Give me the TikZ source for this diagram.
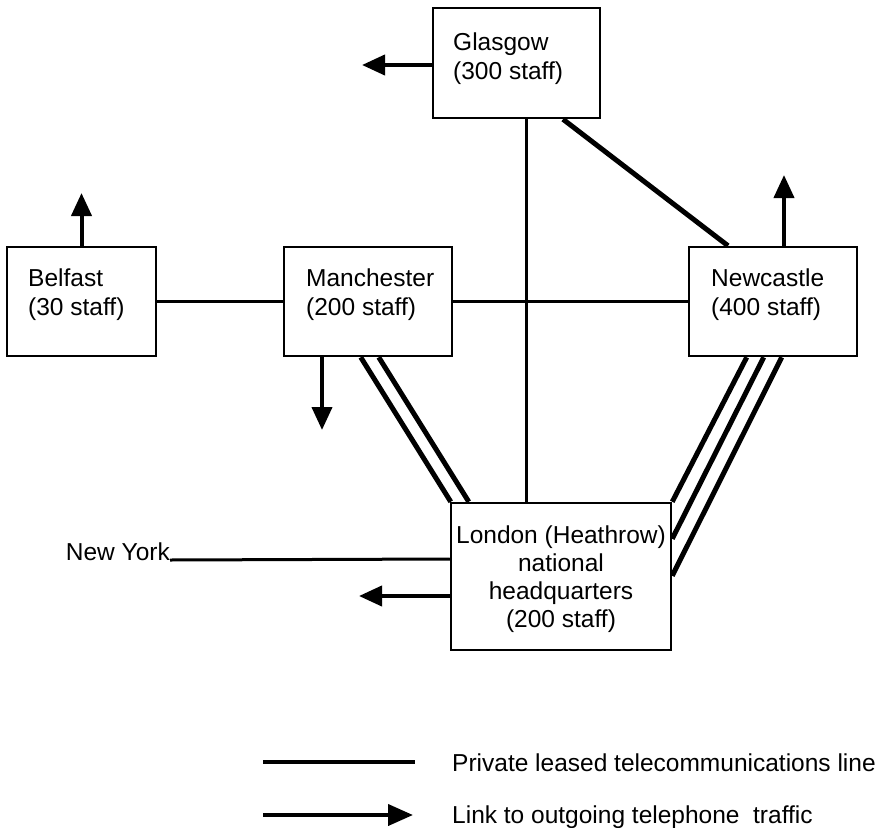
\documentclass[tikz,border=0pt]{standalone}
\usepackage{fontspec}
\setmainfont{Liberation Sans}
\usetikzlibrary{arrows.meta,calc}
\begin{document}
\begin{tikzpicture}[x=1pt,y=-1pt,
  office/.style={draw, line width=2.5pt, inner sep=0pt},
  txt/.style={font=\fontsize{24.5}{29}\selectfont, inner sep=0pt},
  leased/.style={line width=3pt},
  trunk/.style={line width=5pt},
  outgoing/.style={line width=4pt, -{Triangle[length=23pt,width=20pt]}},
]
\useasboundingbox (0,0) rectangle (895,828);

% office boxes
\node[office, minimum width=167pt, minimum height=110pt] (glasgow)    at (516.5,63)  {};
\node[office, minimum width=149pt, minimum height=109pt] (belfast)    at (81.5,301.5) {};
\node[office, minimum width=168pt, minimum height=109pt] (manchester) at (368,301.5) {};
\node[office, minimum width=168pt, minimum height=109pt] (newcastle)  at (773,301.5) {};
\node[office, minimum width=220pt, minimum height=147pt] (london)     at (561,576.5) {};

% office labels
\node[txt, anchor=base west] (glasgowA)    at (453,50)  {Glasgow};
\node[txt, anchor=base west] (glasgowB)    at (453,79)  {(300 staff)};
\node[txt, anchor=base west] (belfastA)    at (28,286)  {Belfast};
\node[txt, anchor=base west] (belfastB)    at (28,315)  {(30 staff)};
\node[txt, anchor=base west] (manchesterA) at (306,286) {Manchester};
\node[txt, anchor=base west] (manchesterB) at (306,315) {(200 staff)};
\node[txt, anchor=base west] (newcastleA)  at (711,286) {Newcastle};
\node[txt, anchor=base west] (newcastleB)  at (711,315) {(400 staff)};
\node[txt, anchor=base] (londonA) at (561,543) {London (Heathrow)};
\node[txt, anchor=base] (londonB) at (561,571) {national};
\node[txt, anchor=base] (londonC) at (561,599) {headquarters};
\node[txt, anchor=base] (londonD) at (561,627) {(200 staff)};
\node[txt, anchor=base east] (newyork) at (170,560) {New York};

% private leased lines
\coordinate (glasgowDown) at ($(glasgow.south)+(9.5,0)$);
\draw[leased] (belfast) -- (manchester);
\draw[leased] (manchester) -- (newcastle);
\draw[leased] (glasgowDown) -- (glasgowDown |- london.north);
\draw[leased] ($(london.west)+(0,-17.5)$) -- (newyork.base east);
\draw[trunk] ($(glasgow.south)+(46.5,0)$) -- ($(newcastle.north)+(-45,0)$);
\draw[trunk] ($(manchester.south west)+(78,0)$) -- ($(london.north west)+(1,0)$);
\draw[trunk] ($(manchester.south west)+(96,0)$) -- ($(london.north west)+(19,0)$);
\draw[trunk] ($(newcastle.south west)+(59,0)$) -- (london.north east);
\draw[trunk] ($(newcastle.south west)+(76,0)$) -- ($(london.north east)+(0,37)$);
\draw[trunk] ($(newcastle.south west)+(94,0)$) -- ($(london.north east)+(0,74)$);

% outgoing telephone traffic
\coordinate (glasgowOut)    at (362,65);
\coordinate (belfastOut)    at (81.5,193);
\coordinate (manchesterOut) at (322,430);
\coordinate (newcastleOut)  at (784,175);
\coordinate (londonOut)     at (359,596);
\draw[outgoing] (glasgow.west |- glasgowOut) -- (glasgowOut);
\draw[outgoing] (belfast.north) -- (belfastOut);
\draw[outgoing] (manchesterOut |- manchester.south) -- (manchesterOut);
\draw[outgoing] (newcastleOut |- newcastle.north) -- (newcastleOut);
\draw[outgoing] (london.west |- londonOut) -- (londonOut);

% key
\coordinate (keyLineA)  at (263,762);
\coordinate (keyLineB)  at (415,762);
\coordinate (keyArrowA) at (263,815);
\coordinate (keyArrowB) at (413,815);
\draw[line width=4pt] (keyLineA) -- (keyLineB);
\draw[line width=4pt, -{Triangle[length=25pt,width=21pt]}] (keyArrowA) -- (keyArrowB);
\node[txt, anchor=base west] (keyLine)  at (452,771) {Private leased telecommunications line};
\node[txt, anchor=base west] (keyArrow) at (452,823) {Link to outgoing telephone\ \ traffic};
\end{tikzpicture}
\end{document}
